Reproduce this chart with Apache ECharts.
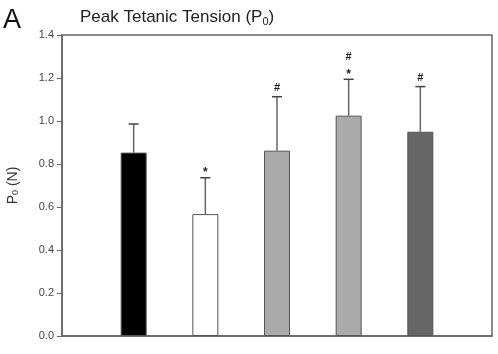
<!DOCTYPE html>
<html>
	<head>
		<meta http-equiv="Content-Type" content="text/html; charset=UTF-8">
		<title>Peak Tetanic Tension</title>
		<script type='text/javascript' src="https://cdn.jsdelivr.net/npm/echarts@6/dist/echarts.min.js"></script>
		<style>
			html, body {margin: 0; padding: 0; background: #fff;}
		</style>
	</head>
	<body>
		<div id="main" style="width: 498px;height:354px;"></div>
		<script type='text/javascript'>
			// bar positions on the x axis (0..6), one bar per group
			var xPos = [1, 2, 3, 4, 5];
			var means = [0.853, 0.567, 0.862, 1.025, 0.950];
			var sems = [0.133, 0.169, 0.251, 0.169, 0.210];
			var barColors = ['#000000', '#ffffff', '#aaaaaa', '#aaaaaa', '#666666'];
			// significance marks over the error bars (top line first)
			var marks = [[], ['*'], ['#'], ['#', '*'], ['#']];
			var yTicks = [0.0, 0.2, 0.4, 0.6, 0.8, 1.0, 1.2, 1.4];

			var font = 'Liberation Sans, Arial, sans-serif';
			var chart = echarts.init(document.getElementById('main'));

			var barData = [], errData = [];
			for (var i = 0; i < xPos.length; i++) {
				barData.push({value: [xPos[i], means[i]], itemStyle: {color: barColors[i]}});
				errData.push([xPos[i], means[i], means[i] + sems[i], i]);
			}

			chart.setOption({
				animation: false,
				title: [{
					text: 'Peak Tetanic Tension (P{sub|0})',
					left: 75, top: 3,
					textStyle: {
						fontFamily: font, fontSize: 17, fontWeight: 'normal', color: '#222',
						rich: {sub: {fontFamily: font, fontSize: 11, color: '#222', verticalAlign: 'bottom', padding: [8, 0, 0, 0]}}
					}
				}, {
					text: 'A',
					left: -2, top: 2,
					textStyle: {fontFamily: font, fontSize: 27, fontWeight: 'normal', color: '#111'}
				}],
				grid: {left: 62, right: 6, top: 35, bottom: 18, show: true, borderColor: '#666', borderWidth: 1.5,
					outerBoundsMode: 'none', containLabel: false},
				xAxis: {
					type: 'value', min: 0, max: 6,
					axisLine: {show: true, lineStyle: {color: '#666', width: 1.5}},
					axisTick: {show: false}, axisLabel: {show: false}, splitLine: {show: false}
				},
				yAxis: {
					type: 'value', min: yTicks[0], max: yTicks[yTicks.length - 1], interval: 0.2,
					name: 'P{sub|0} (N)',
					nameLocation: 'middle', nameGap: 42, nameRotate: 90,
					nameTextStyle: {
						fontFamily: font, fontSize: 14, color: '#333',
						rich: {sub: {fontFamily: font, fontSize: 9, color: '#333', padding: [0, 0, 0, 0], verticalAlign: 'bottom'}}
					},
					axisLine: {show: true, lineStyle: {color: '#666', width: 1.5}},
					axisTick: {show: true, inside: false, length: 5, lineStyle: {color: '#666'}},
					axisLabel: {fontFamily: font, fontSize: 11, color: '#444', margin: 8,
						formatter: function (v) { return v.toFixed(1); }},
					splitLine: {show: false}
				},
				series: [{
					type: 'bar',
					barWidth: 26,
					data: barData,
					itemStyle: {borderColor: '#555', borderWidth: 1},
					z: 2
				}, {
					type: 'custom',
					data: errData,
					z: 3,
					renderItem: function (params, api) {
						var x = api.value(0);
						var base = api.coord([x, api.value(1)]);
						var top = api.coord([x, api.value(2)]);
						var idx = api.value(3);
						var children = [{
							type: 'line',
							shape: {x1: base[0], y1: base[1], x2: top[0], y2: top[1]},
							style: {stroke: '#666', lineWidth: 1.5}
						}, {
							type: 'line',
							shape: {x1: top[0] - 5, y1: top[1], x2: top[0] + 5, y2: top[1]},
							style: {stroke: '#444', lineWidth: 1.5}
						}];
						var m = marks[idx];
						var y = top[1] - 3;
						for (var k = m.length - 1; k >= 0; k--) {
							var isStar = m[k] === '*';
							children.push({
								type: 'text',
								style: {
									text: m[k], x: top[0], y: isStar ? y + 4 : y,
									align: 'center', verticalAlign: 'bottom',
									font: 'bold ' + (isStar ? 12 : 11) + 'px ' + font, fill: '#222'
								}
							});
							y -= isStar ? 14 : 15;
						}
						return {type: 'group', children: children};
					}
				}]
			});
		</script>
	</body>
</html>
